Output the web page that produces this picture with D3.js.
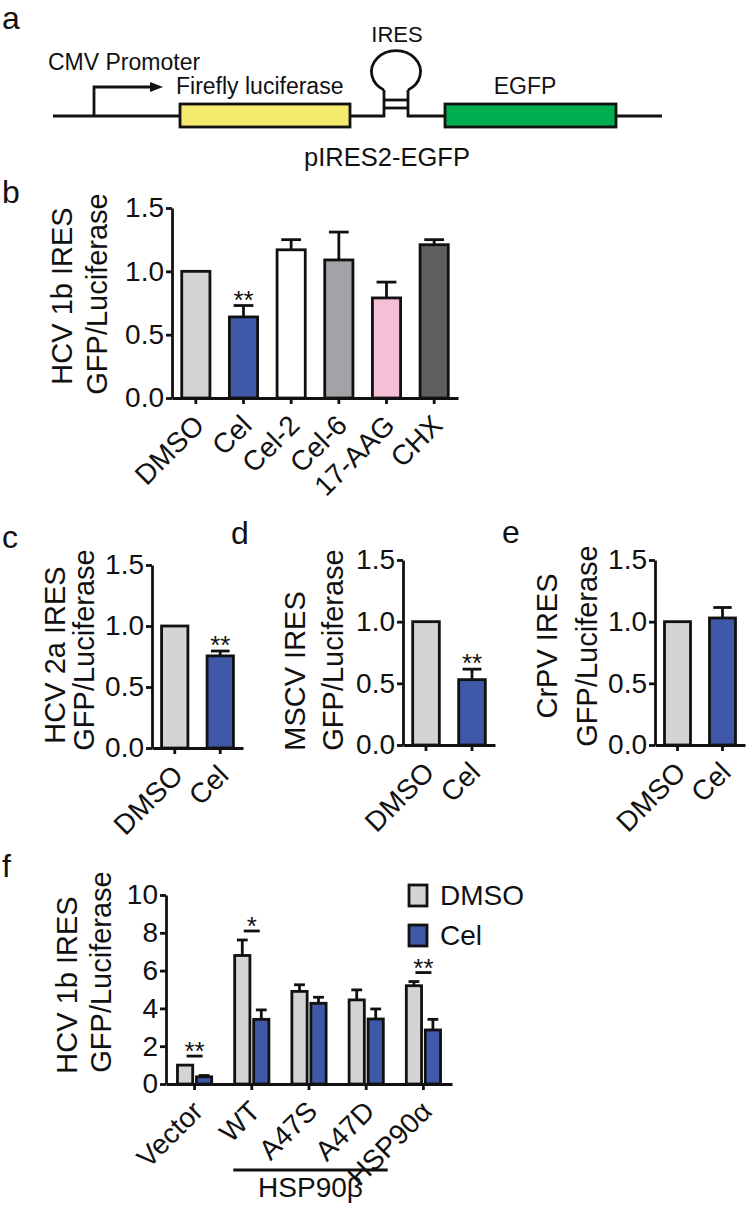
<!DOCTYPE html>
<html>
<head>
<meta charset="utf-8">
<script src="https://cdn.jsdelivr.net/npm/d3@7"></script>
<style>
  html, body { margin: 0; padding: 0; background: #fff; }
  svg { display: block; }
</style>
</head>
<body>
<svg id="fig" width="747" height="1206"></svg>
<script>
// ---------------- DATA ----------------
// panel b
const bCategories = ["DMSO", "Cel", "Cel-2", "Cel-6", "17-AAG", "CHX"];
const bValues = [1.0, 0.64, 1.17, 1.09, 0.79, 1.21];
const bErrors = [0, 0.09, 0.08, 0.22, 0.125, 0.04];
const bSignif = ["", "**", "", "", "", ""];
// panels c, d, e
const cdeCategories = ["DMSO", "Cel"];
const cValues = [1.0, 0.755];
const cErrors = [0, 0.04];
const cSignif = ["", "**"];
const dValues = [1.0, 0.53];
const dErrors = [0, 0.085];
const dSignif = ["", "**"];
const eValues = [1.0, 1.03];
const eErrors = [0, 0.085];
const eSignif = ["", ""];
const ratioTicks = [0, 0.5, 1.0, 1.5];
// panel f
const fGroups = ["Vector", "WT", "A47S", "A47D", "HSP90\u03b1"];
const fSeries = ["DMSO", "Cel"];
const fDMSO = [1.0, 6.8, 4.9, 4.45, 5.2];
const fDMSOErr = [0, 0.82, 0.35, 0.53, 0.22];
const fCel = [0.38, 3.42, 4.27, 3.44, 2.86];
const fCelErr = [0.07, 0.5, 0.32, 0.53, 0.56];
const fSignif = ["**", "*", "", "", "**"];
const fTicks = [0, 2, 4, 6, 8, 10];

// ---------------- STYLE ----------------
const FONT = "'Liberation Sans', Arial, Helvetica, sans-serif";
const INK = "#111";
const SW = 2.8;
const colB = ["#d4d4d4", "#3f58a7", "#ffffff", "#a2a2a7", "#f6bfd8", "#5f5f5f"];
const colDMSO = "#d4d4d4", colCel = "#3f58a7";

const svg = d3.select("#fig").style("font-family", FONT);

// ---------------- PANEL LETTERS ----------------
[["a", 2, 29], ["b", 2, 203], ["c", 2, 548], ["d", 231, 544], ["e", 502, 543], ["f", 2, 877]]
  .forEach(([t, x, y]) => svg.append("text").attr("x", x).attr("y", y)
    .attr("font-size", 32).attr("fill", INK).text(t));

// ---------------- PANEL A (schematic) ----------------
(function () {
  const g = svg.append("g");
  const yb = 116;
  const line = (x1, y1, x2, y2) => g.append("line").attr("x1", x1).attr("y1", y1).attr("x2", x2).attr("y2", y2)
    .attr("stroke", INK).attr("stroke-width", SW);
  line(53, yb, 385, yb);
  line(407, yb, 662, yb);
  // promoter arrow
  g.append("path").attr("d", `M94,${yb} V87 H152`).attr("fill", "none").attr("stroke", INK).attr("stroke-width", SW);
  g.append("path").attr("d", "M150,82 L163,87 L150,92 Z").attr("fill", INK);
  // boxes
  g.append("rect").attr("x", 180).attr("y", 104).attr("width", 170).attr("height", 23)
    .attr("fill", "#f3ea6e").attr("stroke", INK).attr("stroke-width", SW);
  g.append("rect").attr("x", 445).attr("y", 104).attr("width", 171).attr("height", 23)
    .attr("fill", "#00ae4f").attr("stroke", INK).attr("stroke-width", SW);
  // IRES stem loop
  line(384, 90, 384, yb + 1);
  line(408, 90, 408, yb + 1);
  line(384, 100, 408, 100);
  line(384, 108, 408, 108);
  g.append("path").attr("d", "M384,90 A24.5,21 0 1 1 408,90").attr("fill", "none")
    .attr("stroke", INK).attr("stroke-width", SW);
  const txt = (t, x, y, fs, anchor) => g.append("text").attr("x", x).attr("y", y).attr("font-size", fs)
    .attr("text-anchor", anchor || "start").attr("fill", INK).text(t);
  txt("CMV Promoter", 48, 70, 23);
  txt("Firefly luciferase", 176, 94, 23);
  txt("IRES", 397, 42, 22, "middle");
  txt("EGFP", 525, 94, 23, "middle");
  txt("pIRES2-EGFP", 387, 166, 25.5, "middle");
})();

// ---------------- helpers ----------------
function styleAxis(ax) {
  ax.selectAll("path, line").attr("stroke", INK).attr("stroke-width", SW);
  ax.selectAll("text").attr("fill", INK).attr("font-size", 28).attr("font-family", FONT);
}

function yTitle(g, lines, xs, ys) {
  lines.forEach((t, i) => {
    g.append("text").attr("transform", `translate(${xs[i]},${ys[i]}) rotate(-90)`)
      .attr("text-anchor", "middle").attr("font-size", 29).attr("fill", INK).text(t);
  });
}

function xLabels(ax) {
  ax.selectAll(".tick text")
    .attr("x", 10).attr("y", 29).attr("dy", null)
    .attr("text-anchor", "end")
    .attr("transform", "rotate(-45,10,29)");
}

function simplePanel(opt) {
  const { cats, vals, errs, sig, colors, x0, x1, yZero, yTop, pad, titles, tx, ty } = opt;
  const g = svg.append("g");
  const x = d3.scaleBand().domain(cats).range([x0, x1]).paddingInner(pad).paddingOuter(pad / 2);
  const y = d3.scaleLinear().domain([0, 1.5]).range([yZero, yTop]);
  const bw = x.bandwidth();
  const data = cats.map((c, i) => ({ c, v: vals[i], e: errs[i], s: sig[i], col: colors[i] }));
  // error bars
  const eb = data.filter(d => d.e > 0);
  g.selectAll(".ev").data(eb).join("line")
    .attr("x1", d => x(d.c) + bw / 2).attr("x2", d => x(d.c) + bw / 2)
    .attr("y1", d => y(d.v)).attr("y2", d => y(d.v + d.e))
    .attr("stroke", INK).attr("stroke-width", SW);
  g.selectAll(".ec").data(eb).join("line")
    .attr("x1", d => x(d.c) + bw * 0.18).attr("x2", d => x(d.c) + bw * 0.82)
    .attr("y1", d => y(d.v + d.e)).attr("y2", d => y(d.v + d.e))
    .attr("stroke", INK).attr("stroke-width", SW);
  // bars
  g.selectAll(".bar").data(data).join("rect")
    .attr("x", d => x(d.c) + SW / 2).attr("width", bw - SW)
    .attr("y", d => y(d.v)).attr("height", d => y(0) - y(d.v))
    .attr("fill", d => d.col).attr("stroke", INK).attr("stroke-width", SW);
  // significance
  g.selectAll(".sig").data(data.filter(d => d.s)).join("text")
    .attr("x", d => x(d.c) + bw / 2).attr("y", d => y(d.v + d.e) + 3)
    .attr("text-anchor", "middle").attr("font-size", 26).attr("fill", INK).text(d => d.s);
  // axes
  const ya = g.append("g").attr("transform", `translate(${x0},0)`)
    .call(d3.axisLeft(y).tickValues(ratioTicks).tickFormat(d3.format(".1f")).tickSize(6).tickSizeOuter(0).tickPadding(2));
  styleAxis(ya);
  const xa = g.append("g").attr("transform", `translate(0,${yZero})`)
    .call(d3.axisBottom(x).tickSize(6).tickSizeOuter(0));
  styleAxis(xa);
  xLabels(xa);
  yTitle(g, titles, tx, ty);
}

// ---------------- PANEL B ----------------
simplePanel({
  cats: bCategories, vals: bValues, errs: bErrors, sig: bSignif, colors: colB,
  x0: 172, x1: 458, yZero: 398, yTop: 208, pad: 0.35,
  titles: ["HCV 1b IRES", "GFP/Luciferase"], tx: [72, 107], ty: [296, 294]
});

// ---------------- PANELS C, D, E ----------------
simplePanel({
  cats: cdeCategories, vals: cValues, errs: cErrors, sig: cSignif, colors: [colDMSO, colCel],
  x0: 152, x1: 243, yZero: 748, yTop: 565, pad: 0.36,
  titles: ["HCV 2a IRES", "GFP/Luciferase"], tx: [65, 94], ty: [655, 650]
});
simplePanel({
  cats: cdeCategories, vals: dValues, errs: dErrors, sig: dSignif, colors: [colDMSO, colCel],
  x0: 403, x1: 495, yZero: 745, yTop: 560, pad: 0.36,
  titles: ["MSCV IRES", "GFP/Luciferase"], tx: [305, 343], ty: [671, 650]
});
simplePanel({
  cats: cdeCategories, vals: eValues, errs: eErrors, sig: eSignif, colors: [colDMSO, colCel],
  x0: 655, x1: 745, yZero: 745, yTop: 560, pad: 0.36,
  titles: ["CrPV IRES", "GFP/Luciferase"], tx: [557, 597], ty: [646, 646]
});

// ---------------- PANEL F ----------------
(function () {
  const g = svg.append("g");
  const x0 = 166, x1 = 452, yZero = 1084, yTop = 895;
  const xg = d3.scaleBand().domain(fGroups).range([x0, x1]).paddingInner(0.353).paddingOuter(0.176);
  const xs = d3.scaleBand().domain(fSeries).range([0, xg.bandwidth()]).paddingInner(0.05);
  const y = d3.scaleLinear().domain([0, 10]).range([yZero, yTop]);
  const color = d3.scaleOrdinal().domain(fSeries).range([colDMSO, colCel]);
  const bw = xs.bandwidth();
  const rows = [];
  fGroups.forEach((grp, i) => {
    rows.push({ g: grp, s: "DMSO", v: fDMSO[i], e: fDMSOErr[i] });
    rows.push({ g: grp, s: "Cel", v: fCel[i], e: fCelErr[i] });
  });
  const cx = d => xg(d.g) + xs(d.s) + bw / 2;
  const eb = rows.filter(d => d.e > 0);
  g.selectAll(".ev").data(eb).join("line")
    .attr("x1", cx).attr("x2", cx)
    .attr("y1", d => y(d.v)).attr("y2", d => y(d.v + d.e))
    .attr("stroke", INK).attr("stroke-width", SW);
  g.selectAll(".ec").data(eb).join("line")
    .attr("x1", d => cx(d) - bw * 0.3).attr("x2", d => cx(d) + bw * 0.3)
    .attr("y1", d => y(d.v + d.e)).attr("y2", d => y(d.v + d.e))
    .attr("stroke", INK).attr("stroke-width", SW);
  g.selectAll(".bar").data(rows).join("rect")
    .attr("x", d => xg(d.g) + xs(d.s) + SW / 2).attr("width", bw - SW)
    .attr("y", d => y(d.v)).attr("height", d => y(0) - y(d.v))
    .attr("fill", d => color(d.s)).attr("stroke", INK).attr("stroke-width", SW);
  // significance brackets
  const sigs = fGroups.map((grp, i) => ({ g: grp, s: fSignif[i], top: Math.max(fDMSO[i] + fDMSOErr[i], fCel[i] + fCelErr[i]) }))
    .filter(d => d.s);
  sigs.forEach(d => {
    const c = xg(d.g) + xg.bandwidth() / 2;
    const ly = y(d.top) - 9;
    g.append("line").attr("x1", c - 8).attr("x2", c + 8).attr("y1", ly).attr("y2", ly)
      .attr("stroke", INK).attr("stroke-width", SW);
    g.append("text").attr("x", c).attr("y", ly + 4).attr("text-anchor", "middle")
      .attr("font-size", 26).attr("fill", INK).text(d.s);
  });
  // axes
  const ya = g.append("g").attr("transform", `translate(${x0},0)`)
    .call(d3.axisLeft(y).tickValues(fTicks).tickFormat(d3.format("d")).tickSize(6).tickSizeOuter(0).tickPadding(2));
  styleAxis(ya);
  const xa = g.append("g").attr("transform", `translate(0,${yZero})`)
    .call(d3.axisBottom(xg).tickSize(6).tickSizeOuter(0));
  styleAxis(xa);
  xLabels(xa);
  yTitle(g, ["HCV 1b IRES", "GFP/Luciferase"], [77, 111], [985, 972]);
  // HSP90beta group bracket
  const gx1 = xg("WT"), gx2 = xg("A47D") + xg.bandwidth() + 3;
  g.append("line").attr("x1", gx1).attr("x2", gx2).attr("y1", 1170).attr("y2", 1170)
    .attr("stroke", INK).attr("stroke-width", SW);
  g.append("text").attr("x", (gx1 + gx2) / 2).attr("y", 1197).attr("text-anchor", "middle")
    .attr("font-size", 28).attr("fill", INK).text("HSP90\u03b2");
  // legend
  const lg = g.append("g").attr("transform", "translate(409,885)");
  fSeries.forEach((s, i) => {
    lg.append("rect").attr("x", 0).attr("y", i * 40).attr("width", 18).attr("height", 21)
      .attr("fill", color(s)).attr("stroke", INK).attr("stroke-width", SW);
    lg.append("text").attr("x", 31).attr("y", i * 40 + 20).attr("font-size", 28).attr("fill", INK).text(s);
  });
})();
</script>
</body>
</html>
